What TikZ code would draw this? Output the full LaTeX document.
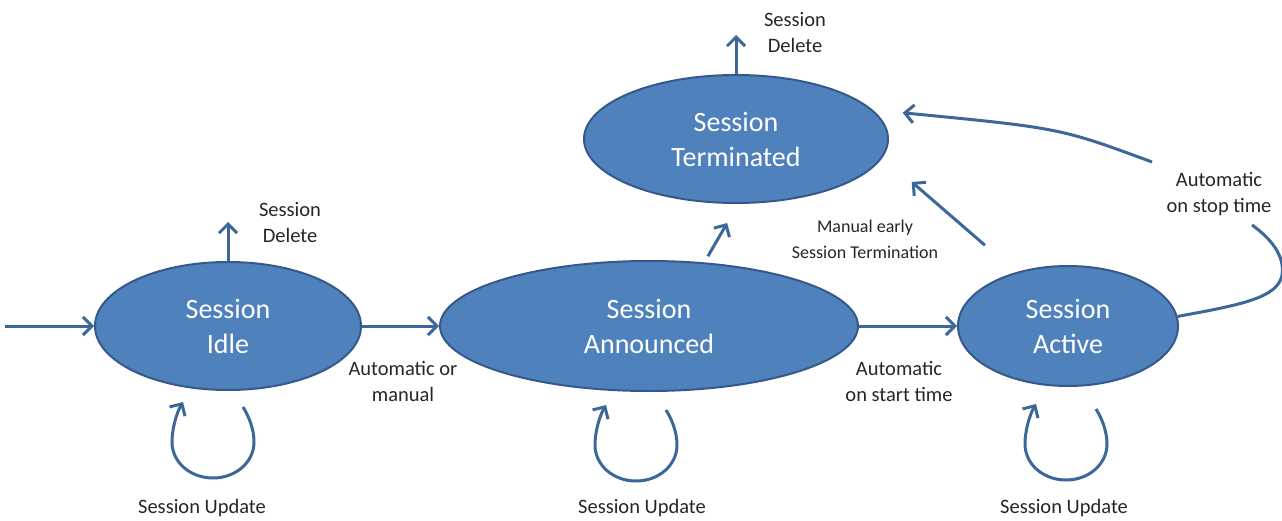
\documentclass[tikz,border=0pt]{standalone}
\usepackage{fontspec}
\setmainfont{Carlito}
\usetikzlibrary{shapes.geometric,arrows.meta}
\definecolor{stateblue}{HTML}{4F81BD}
\definecolor{stateline}{HTML}{35598A}
\definecolor{edgeblue}{HTML}{3B6799}

\begin{document}
\begin{tikzpicture}
  [x=1pt,y=1pt]
      \tikzstyle{state_style} = [ellipse, fill=stateblue, draw=stateline, line width=2, text=white, align=center, inner sep=0, font=\fontsize{28}{35}\selectfont]
      \tikzstyle{line_style} = [draw=edgeblue, line width=3]
      \tikzstyle{edge_style} = [line_style, -{Straight Barb[length=9pt,width=18pt]}]
      \tikzstyle{text_style} = [align=center, text=black!85, inner sep=0, font=\fontsize{20.5}{26}\selectfont]
  \useasboundingbox (0,0) rectangle (1282,520);
  \node[state_style, minimum width=266, minimum height=128] (n0) at (228,194) {Session\\Idle};
  \node[state_style, minimum width=418, minimum height=130] (n1) at (649,194) {Session\\Announced};
  \node[state_style, minimum width=220, minimum height=120] (n2) at (1068,194) {Session\\Active};
  \node[state_style, minimum width=304, minimum height=128] (n3) at (736,381) {Session\\Terminated};
  \node[text_style] (l0) at (290,297) {Session\\Delete};
  \node[text_style] (l1) at (795,487) {Session\\Delete};
  \node[text_style] (l2) at (403,139) {Automatic or\\manual};
  \node[text_style] (l3) at (899,139) {Automatic\\on start time};
  \node[text_style, font=\fontsize{18}{26}\selectfont] (l4) at (865,281) {Manual early\\Session Termination};
  \node[text_style] (l5) at (1219,326) {Automatic\\on stop time};
  \node[text_style] (l6) at (202,12) {Session Update};
  \node[text_style] (l7) at (642,12) {Session Update};
  \node[text_style] (l8) at (1064,12) {Session Update};
  \coordinate (c0) at (5,194);
  \coordinate (d0) at (228,298);
  \coordinate (d1) at (736,485);
  \coordinate (s0) at (1252,295);
  \coordinate (s1) at (1152,358);
  \draw[edge_style] (c0) -- (n0);
  \draw[edge_style] (n0) -- (n1);
  \draw[edge_style] (n1) -- (n2);
  \draw[edge_style] (n0) -- (d0);
  \draw[edge_style] (n3) -- (d1);
  \draw[edge_style, shorten <=7pt, shorten >=22pt] (n1.49) -- (n3.-88);
  \draw[edge_style, shorten <=41pt, shorten >=38pt] (n2.134) -- (n3.-7);
  \draw[line_style] (n2.5) .. controls (1240,215) and (1278,222) .. (1282,245)
    .. controls (1285,265) and (1270,282) .. (s0);
  \draw[edge_style, shorten >=30pt] (s1) .. controls (1060,392) .. (n3.12);
  \draw[edge_style, shift={(n0.south)}, xshift=-15, yshift=-51] (30,35) .. controls (35,27) and (41,14) .. (41,0)
    .. controls (41,-20) and (23,-36) .. (0,-36) .. controls (-23,-36) and (-41,-20) .. (-41,0)
    .. controls (-41,14) and (-36,30) .. (-30,40);
  \draw[edge_style, shift={(n1.south)}, xshift=-13, yshift=-53] (30,35) .. controls (35,27) and (41,14) .. (41,0)
    .. controls (41,-20) and (23,-36) .. (0,-36) .. controls (-23,-36) and (-41,-20) .. (-41,0)
    .. controls (-41,14) and (-36,30) .. (-30,40);
  \draw[edge_style, shift={(n2.south)}, xshift=-2, yshift=-57] (30,35) .. controls (35,27) and (41,14) .. (41,0)
    .. controls (41,-20) and (23,-36) .. (0,-36) .. controls (-23,-36) and (-41,-20) .. (-41,0)
    .. controls (-41,14) and (-36,30) .. (-30,40);
\end{tikzpicture}
\end{document}
